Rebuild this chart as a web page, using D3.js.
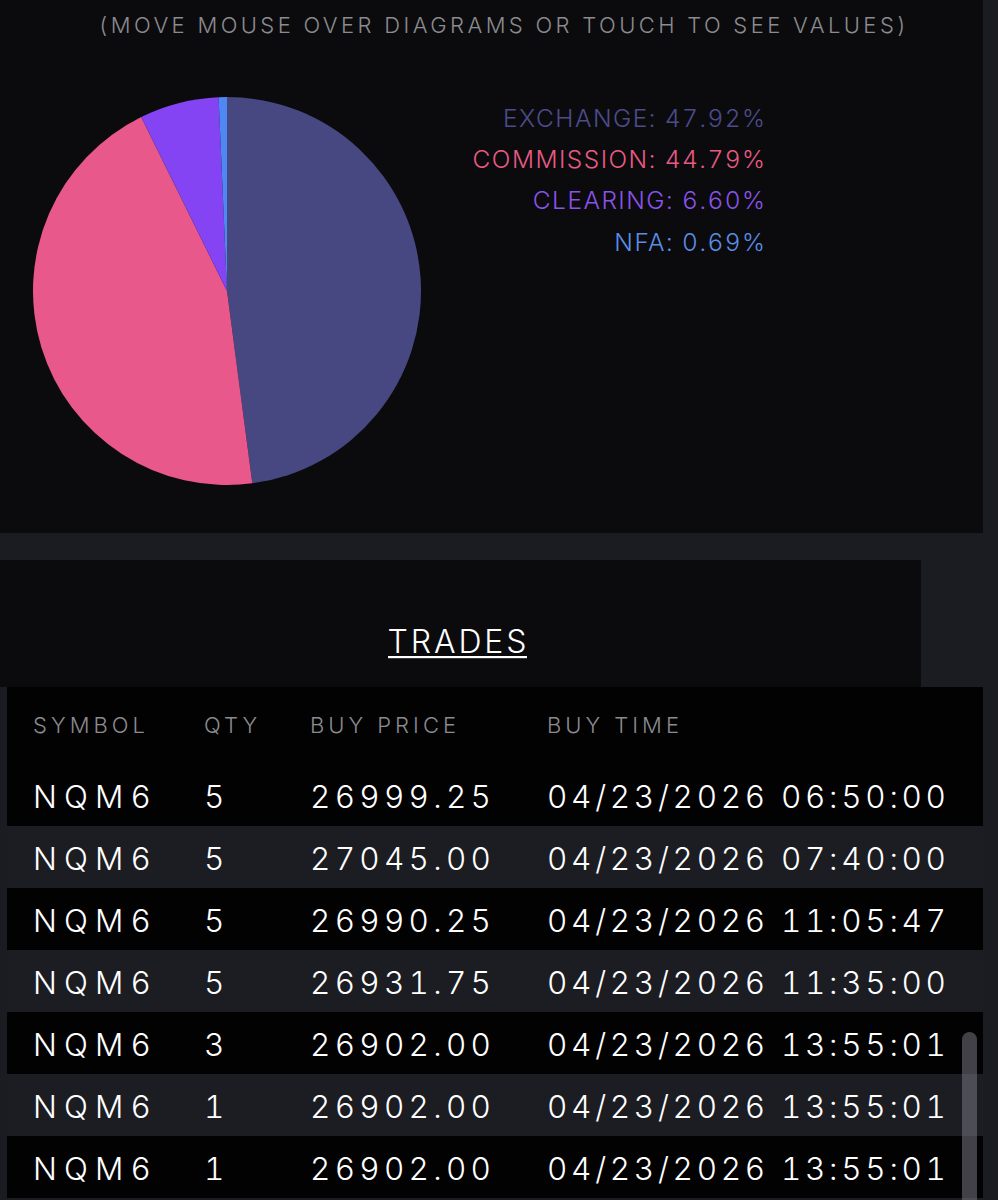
<!DOCTYPE html>
<html>
<head>
<meta charset="utf-8">
<script src="https://cdn.jsdelivr.net/npm/d3@7"></script>
<style>
  html, body { margin: 0; padding: 0; background: #1b1c21; }
  svg { display: block; }
  text { font-family: "Inter", "Lato", "Open Sans", sans-serif; font-variant-numeric: tabular-nums; font-feature-settings: "tnum" 1; }
</style>
</head>
<body>
<div id="chart"></div>
<script>
// ---------- data ----------
const hintText = "(MOVE MOUSE OVER DIAGRAMS OR TOUCH TO SEE VALUES)";
const categories = ["EXCHANGE", "COMMISSION", "CLEARING", "NFA"];
const shares = [47.92, 44.79, 6.60, 0.69];
const sliceColors = ["#474781", "#e9588a", "#8444f4", "#4f88f2"];
const legendColors = ["#4c4c8c", "#e85a84", "#8a52ea", "#5a8ee8"];

const tableTitle = "TRADES";
const columnHeaders = ["SYMBOL", "QTY", "BUY PRICE", "BUY TIME"];
const symbols = ["NQM6", "NQM6", "NQM6", "NQM6", "NQM6", "NQM6", "NQM6"];
const quantities = [5, 5, 5, 5, 3, 1, 1];
const buyPrices = [26999.25, 27045.00, 26990.25, 26931.75, 26902.00, 26902.00, 26902.00];
const buyTimes = [
  "04/23/2026 06:50:00",
  "04/23/2026 07:40:00",
  "04/23/2026 11:05:47",
  "04/23/2026 11:35:00",
  "04/23/2026 13:55:01",
  "04/23/2026 13:55:01",
  "04/23/2026 13:55:01"
];

// ---------- layout ----------
const W = 998, H = 1200;
const svg = d3.select("#chart").append("svg").attr("width", W).attr("height", H);

svg.append("rect").attr("x", 0).attr("y", 0).attr("width", W).attr("height", H).attr("fill", "#1b1c21");
// top panel
svg.append("rect").attr("x", 0).attr("y", 0).attr("width", 983).attr("height", 533).attr("fill", "#0b0b0d");
// trades title panel
svg.append("rect").attr("x", 0).attr("y", 560).attr("width", 921).attr("height", 127).attr("fill", "#0b0b0d");

// helper: letter-spacing so that a reference string matches a measured width
function fitSpacing(sel, target) {
  sel.style("letter-spacing", "0px");
  const node = sel.node();
  const len = node.getComputedTextLength();
  const n = node.textContent.length;
  return (target - len) / Math.max(1, n - 1);
}

// hint text
const hint = svg.append("text")
  .attr("x", 504).attr("y", 33)
  .attr("text-anchor", "middle")
  .attr("fill", "#8b8b90")
  .attr("font-size", 22).attr("font-weight", 300)
  .text(hintText);
hint.style("letter-spacing", fitSpacing(hint, 807) + "px");

// ---------- pie ----------
const pie = d3.pie().sort(null).value(d => d.v);
const arc = d3.arc().innerRadius(0).outerRadius(194);
const pieData = pie(categories.map((c, i) => ({ c, v: shares[i], i })));
svg.append("g").attr("transform", "translate(227,291)")
  .selectAll("path").data(pieData).join("path")
  .attr("d", arc)
  .attr("fill", d => sliceColors[d.data.i]);

// ---------- legend ----------
const legendY = d3.scalePoint().domain(categories).range([127, 250.5]);
const legendTexts = svg.append("g").selectAll("text").data(categories).join("text")
  .attr("x", 765)
  .attr("y", d => legendY(d))
  .attr("text-anchor", "end")
  .attr("font-size", 24.5).attr("font-weight", 300)
  .attr("fill", (d, i) => legendColors[i])
  .text((d, i) => `${d}: ${shares[i].toFixed(2)}%`);
const legendLs = fitSpacing(d3.select(legendTexts.nodes()[0]), 262);
legendTexts.style("letter-spacing", legendLs + "px").attr("dx", legendLs);

// ---------- trades title ----------
const title = svg.append("text")
  .attr("x", 457).attr("y", 653)
  .attr("text-anchor", "middle")
  .attr("fill", "#ffffff")
  .attr("font-size", 32).attr("font-weight", 300)
  .text(tableTitle);
const titleLs = fitSpacing(title, 139);
title.style("letter-spacing", titleLs + "px").attr("dx", titleLs / 2);
svg.append("rect").attr("x", 388).attr("y", 656).attr("width", 139).attr("height", 2.2).attr("fill", "#ffffff");

// ---------- table ----------
const tableX = 7, tableW = 976, headerTop = 687, rowH = 62, firstRowTop = 764;
svg.append("rect").attr("x", tableX).attr("y", headerTop).attr("width", tableW)
  .attr("height", firstRowTop - headerTop).attr("fill", "#020203");

const rowY = d3.scaleBand().domain(d3.range(symbols.length))
  .range([firstRowTop, firstRowTop + rowH * symbols.length]);
const colX = d3.scaleOrdinal().domain(columnHeaders).range([33, 204, 310, 547]);
// measured widths of the first row's cell text in each column (for letter-spacing fit)
const colFitWidth = d3.scaleOrdinal().domain(columnHeaders).range([118, 21, 181, 399]);

svg.append("g").selectAll("rect").data(d3.range(symbols.length)).join("rect")
  .attr("x", tableX).attr("y", i => rowY(i))
  .attr("width", tableW).attr("height", rowY.bandwidth())
  .attr("fill", i => i % 2 === 0 ? "#020203" : "#1c1d22");

// header labels
const headTexts = svg.append("g").selectAll("text").data(columnHeaders).join("text")
  .attr("x", d => colX(d)).attr("y", 733)
  .attr("fill", "#8b8b90")
  .attr("font-size", 22).attr("font-weight", 300)
  .text(d => d);
const headLs = fitSpacing(d3.select(headTexts.nodes()[0]), 112);
headTexts.style("letter-spacing", headLs + "px");

// rows
const rows = d3.range(symbols.length).map(i => [
  { col: "SYMBOL", t: symbols[i] },
  { col: "QTY", t: String(quantities[i]) },
  { col: "BUY PRICE", t: buyPrices[i].toFixed(2) },
  { col: "BUY TIME", t: buyTimes[i] }
].map(c => ({ ...c, i })));

const cellTexts = svg.append("g").selectAll("text").data(rows.flat()).join("text")
  .attr("x", d => colX(d.col))
  .attr("y", d => rowY(d.i) + 44)
  .attr("fill", "#ffffff")
  .attr("font-size", 31.5).attr("font-weight", 300)
  .text(d => d.t);

["SYMBOL", "BUY PRICE", "BUY TIME"].forEach(col => {
  const ref = cellTexts.filter(d => d.i === 0 && d.col === col);
  const ls = fitSpacing(ref, colFitWidth(col));
  cellTexts.filter(d => d.col === col).style("letter-spacing", ls + "px");
});

// scrollbar
svg.append("rect").attr("x", 962).attr("y", 1032).attr("width", 15).attr("height", 220)
  .attr("rx", 7.5).attr("fill", "rgba(118,118,128,0.55)");
</script>
</body>
</html>
